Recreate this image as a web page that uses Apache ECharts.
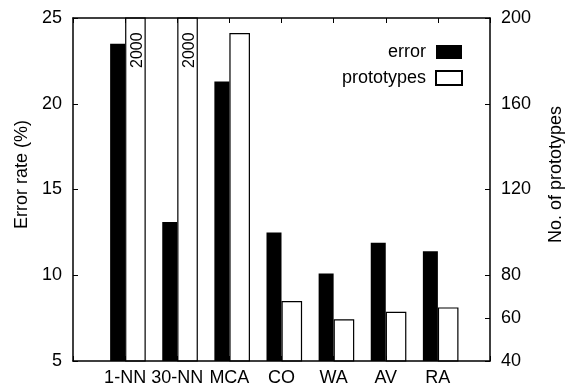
<!DOCTYPE html>
<html>
<head>
<meta charset="utf-8">
<script src="https://cdn.jsdelivr.net/npm/echarts@6/dist/echarts.min.js"></script>
<style>
  html, body { margin: 0; padding: 0; background: #fff; }
  #chart { width: 565px; height: 389px; }
</style>
</head>
<body>
<div id="chart"></div>
<script>
const categories = ['1-NN', '30-NN', 'MCA', 'CO', 'WA', 'AV', 'RA']
const errorRate = [23.5, 13.1, 21.3, 12.5, 10.1, 11.9, 11.4]
const prototypes = [2000, 2000, 193, 68, 59.5, 63, 65]
const rightTicks = [40, 60, 80, 120, 160, 200]

const FONT = "'Liberation Sans', Arial, sans-serif"

// pad one empty slot on each side, gnuplot-style x range
const pad = arr => ['-'].concat(arr, ['-'])
const xData = [''].concat(categories, [''])

// the "2000" bars run off the top: say so inside the bar
const protoData = pad(prototypes).map(v => {
  if (v !== '-' && v > 200) {
    return {
      value: v,
      label: {
        show: true,
        position: ['60%', 15],
        rotate: 90,
        align: 'right',
        verticalAlign: 'middle',
        formatter: '{c}',
        color: '#000',
        fontSize: 16,
        fontFamily: FONT
      }
    }
  }
  return v
})

const axisLine = { lineStyle: { color: '#000', width: 1.5 } }
// names sit a bit above the plot's middle, like the original
const nameStyle = { fontSize: 18, color: '#000', padding: [0, 0, 0, 30] }

const chart = echarts.init(document.getElementById('chart'))
chart.setOption({
  animation: false,
  textStyle: { fontFamily: FONT },
  grid: { left: 73, right: 75, top: 18, bottom: 28, containLabel: false, outerBoundsMode: 'none' },
  legend: {
    orient: 'vertical',
    align: 'right',
    right: 102,
    top: 43,
    padding: 0,
    itemWidth: 26,
    itemHeight: 14,
    itemGap: 8,
    icon: 'rect',
    data: ['error', 'prototypes'],
    textStyle: { fontSize: 18, color: '#000', fontFamily: FONT, padding: [0, 5, 0, 0] }
  },
  xAxis: [
    {
      type: 'category',
      data: xData,
      boundaryGap: false,
      z: 10,
      axisLine: axisLine,
      axisTick: { inside: true, length: 5, lineStyle: { color: '#000' } },
      axisLabel: { color: '#000', fontSize: 18, margin: 8, interval: 0 }
    },
    {
      type: 'category',
      position: 'top',
      data: xData,
      boundaryGap: false,
      z: 10,
      axisLine: axisLine,
      axisTick: { inside: true, length: 5, lineStyle: { color: '#000' } },
      axisLabel: { show: false }
    }
  ],
  yAxis: [
    {
      type: 'value',
      min: 5,
      max: 25,
      interval: 5,
      z: 10,
      name: 'Error rate (%)',
      nameLocation: 'middle',
      nameGap: 42,
      nameTextStyle: nameStyle,
      axisLine: { show: true, lineStyle: { color: '#000', width: 1.5 } },
      axisTick: { show: true, inside: true, length: 5, lineStyle: { color: '#000' } },
      axisLabel: { color: '#000', fontSize: 18, margin: 11 },
      splitLine: { show: false }
    },
    {
      type: 'value',
      min: 40,
      max: 200,
      position: 'right',
      z: 10,
      name: 'No. of prototypes',
      nameLocation: 'middle',
      nameGap: 57,
      nameTextStyle: nameStyle,
      axisLine: { show: true, lineStyle: { color: '#000', width: 1.5 } },
      axisTick: { show: true, inside: true, length: 5, customValues: rightTicks, lineStyle: { color: '#000' } },
      axisLabel: { color: '#000', fontSize: 18, margin: 11, customValues: rightTicks },
      splitLine: { show: false }
    }
  ],
  series: [
    {
      // spacer so the black/white seam sits on the tick
      name: 'spacer',
      type: 'bar',
      barWidth: 5.6,
      barGap: 0,
      data: pad(categories.map(() => '-')),
      silent: true
    },
    {
      name: 'error',
      type: 'bar',
      barWidth: 15,
      barGap: 0,
      yAxisIndex: 0,
      data: pad(errorRate),
      itemStyle: { color: '#000' }
    },
    {
      name: 'prototypes',
      type: 'bar',
      barWidth: 20.6,
      barGap: 0,
      yAxisIndex: 1,
      data: protoData,
      itemStyle: { color: '#fff', borderColor: '#000', borderWidth: 1.2 }
    }
  ]
})
</script>
</body>
</html>
